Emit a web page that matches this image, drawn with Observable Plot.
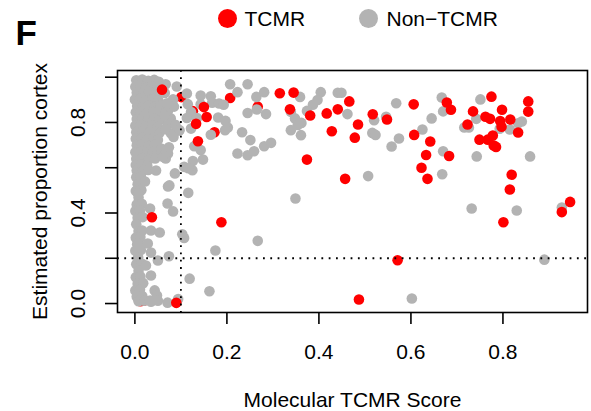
<!DOCTYPE html>
<html>
<head>
<meta charset="utf-8">
<script src="https://cdn.jsdelivr.net/npm/d3@7"></script>
<script src="https://cdn.jsdelivr.net/npm/@observablehq/plot@0.6"></script>
<style>
  body { margin: 0; background: #fff; font-family: "Liberation Sans", Arial, Helvetica, sans-serif; color: #000; }
  #wrap { position: relative; width: 591px; height: 411px; overflow: hidden; }
  #head { position: relative; height: 40px; }
  .panel { position: absolute; left: 15.5px; top: 15.4px; font-size: 35px; font-weight: bold; line-height: 1; }
  .sw { position: absolute; top: 8.5px; width: 19px; height: 19px; border-radius: 50%; }
  .lab { position: absolute; top: 7.7px; font-size: 21px; line-height: 1; white-space: nowrap; }
</style>
</head>
<body>
<div id="wrap">
  <div id="head">
    <div class="panel">F</div>
    <div class="sw" id="sw1" style="left:217.5px"></div>
    <div class="lab" id="lab1" style="left:244.5px"></div>
    <div class="sw" id="sw2" style="left:358.5px"></div>
    <div class="lab" id="lab2" style="left:386.5px"></div>
  </div>
  <div id="chart"></div>
</div>
<script>
// Groups and colours
const groups = ["TCMR", "Non\u2212TCMR"];
const groupColors = ["#ff0000", "#b3b3b3"];

// Axis ticks
const xTicks = [0, 0.2, 0.4, 0.6, 0.8];
const yTicks = [0, 0.2, 0.4, 0.6, 0.8, 1.0];
const yTickLabels = [0, 0.4, 0.8];

// Reference cut-offs
const scoreCutoff = [0.1];
const cortexCutoff = [0.2];

// Biopsies: [molecular TCMR score, estimated proportion cortex]
// TCMR biopsies plotted before the non-TCMR ones (partly covered)
const tcmrEarly = [
  [0.101, 0.912], [0.207, 0.908], [0.173, 0.757], [0.267, 0.870], [0.126, 0.850],
  [0.012, 0.587], [0.017, 0.890], [0.050, 0.868], [0.034, 0.739], [0.009, 0.065],
  [0.020, 0.013], [0.012, 0.010], [0.025, 0.785]
];

// Non-TCMR biopsies
const nonTcmr = [
  // low-score cluster
  [0.003, 0.986], [0.016, 0.990], [0.029, 0.984], [0.042, 0.988], [0.052, 0.980],
  [0.001, 0.958], [0.012, 0.962], [0.024, 0.955], [0.037, 0.960], [0.049, 0.953],
  [0.004, 0.931], [0.018, 0.928], [0.031, 0.934], [0.045, 0.926], [0.055, 0.932],
  [0.000, 0.902], [0.011, 0.905], [0.025, 0.898], [0.038, 0.903], [0.051, 0.897],
  [0.005, 0.873], [0.017, 0.870], [0.030, 0.876], [0.043, 0.868], [0.056, 0.874],
  [0.002, 0.845], [0.013, 0.848], [0.026, 0.841], [0.040, 0.846], [0.052, 0.840],
  [0.004, 0.815], [0.016, 0.818], [0.029, 0.812], [0.042, 0.816], [0.054, 0.811],
  [0.001, 0.786], [0.012, 0.789], [0.025, 0.783], [0.038, 0.787], [0.050, 0.782],
  [0.003, 0.757], [0.017, 0.760], [0.030, 0.754], [0.044, 0.758], [0.053, 0.752],
  [0.067, 0.969], [0.091, 0.959], [0.083, 0.902], [0.072, 0.853], [0.078, 0.818],
  [0.072, 0.791], [0.096, 0.765], [0.078, 0.752], [0.065, 0.930], [0.070, 0.885],
  [0.064, 0.830], [0.085, 0.870], [0.066, 0.770], [0.088, 0.790],
  [0.002, 0.728], [0.015, 0.731], [0.028, 0.725], [0.041, 0.729], [0.050, 0.722],
  [0.004, 0.699], [0.016, 0.702], [0.030, 0.696], [0.043, 0.700],
  [0.001, 0.668], [0.013, 0.671], [0.026, 0.665], [0.039, 0.669], [0.049, 0.662],
  [0.003, 0.640], [0.017, 0.643], [0.031, 0.637], [0.044, 0.641],
  [0.057, 0.685], [0.072, 0.663], [0.067, 0.641],
  [0.002, 0.612], [0.014, 0.615], [0.027, 0.609], [0.004, 0.588], [0.016, 0.585],
  [0.029, 0.590], [0.046, 0.588],
  [0.003, 0.558], [0.013, 0.561], [0.006, 0.527], [0.002, 0.497], [0.014, 0.500],
  [0.008, 0.468], [0.004, 0.438], [0.015, 0.441], [0.001, 0.409], [0.011, 0.412],
  [0.006, 0.379], [0.017, 0.382], [0.003, 0.350], [0.008, 0.320], [0.016, 0.323],
  [0.002, 0.291], [0.012, 0.294], [0.005, 0.262], [0.001, 0.233], [0.013, 0.236],
  [0.007, 0.204], [0.003, 0.174], [0.015, 0.177], [0.008, 0.145], [0.002, 0.116],
  [0.012, 0.119], [0.006, 0.087], [0.018, 0.090], [0.001, 0.058], [0.011, 0.061],
  [0.004, 0.030], [0.016, 0.033], [0.008, 0.010], [0.020, 0.012],
  [0.022, 0.539], [0.013, 0.504], [0.072, 0.517], [0.007, 0.486], [0.033, 0.420],
  [0.035, 0.323], [0.054, 0.314], [0.007, 0.265], [0.028, 0.265], [0.035, 0.225],
  [0.050, 0.190], [0.024, 0.168], [0.035, 0.124], [0.043, 0.058], [0.048, 0.035],
  [0.033, 0.013], [0.035, 0.008], [0.050, 0.012],
  // intermediate scores
  [0.207, 0.969], [0.245, 0.969], [0.113, 0.928], [0.143, 0.919], [0.165, 0.916],
  [0.223, 0.934], [0.264, 0.913], [0.281, 0.934], [0.143, 0.880], [0.168, 0.887],
  [0.183, 0.884], [0.193, 0.878], [0.245, 0.842], [0.265, 0.857], [0.285, 0.837],
  [0.348, 0.818], [0.181, 0.822], [0.197, 0.807], [0.202, 0.778], [0.196, 0.766],
  [0.233, 0.757], [0.251, 0.722], [0.281, 0.695], [0.296, 0.710], [0.223, 0.663],
  [0.245, 0.655], [0.259, 0.673], [0.122, 0.773], [0.097, 0.766], [0.084, 0.736],
  [0.129, 0.695], [0.143, 0.678], [0.148, 0.636], [0.126, 0.630], [0.125, 0.589],
  [0.107, 0.604], [0.116, 0.598], [0.087, 0.575], [0.075, 0.522], [0.116, 0.489],
  [0.061, 0.648], [0.068, 0.669], [0.074, 0.690], [0.071, 0.442], [0.083, 0.407],
  [0.103, 0.306], [0.107, 0.290], [0.074, 0.209], [0.119, 0.110], [0.162, 0.054],
  [0.175, 0.234], [0.267, 0.277], [0.071, 0.004], [0.094, 0.020],
  [0.115, 0.881], [0.122, 0.846], [0.113, 0.820], [0.135, 0.820], [0.165, 0.746],
  // higher scores
  [0.359, 0.913], [0.404, 0.934], [0.441, 0.931], [0.449, 0.931], [0.397, 0.899],
  [0.387, 0.878], [0.374, 0.851], [0.339, 0.847], [0.362, 0.798], [0.354, 0.789],
  [0.339, 0.766], [0.361, 0.744], [0.462, 0.837], [0.520, 0.810], [0.546, 0.825],
  [0.568, 0.885], [0.516, 0.754], [0.523, 0.745], [0.574, 0.729], [0.558, 0.694],
  [0.625, 0.769], [0.645, 0.818], [0.667, 0.910], [0.670, 0.849], [0.670, 0.673],
  [0.668, 0.571], [0.507, 0.563], [0.716, 0.778], [0.726, 0.778], [0.742, 0.816],
  [0.751, 0.902], [0.793, 0.772], [0.815, 0.769], [0.833, 0.796], [0.841, 0.804],
  [0.743, 0.650], [0.859, 0.650], [0.349, 0.464], [0.732, 0.420], [0.830, 0.411],
  [0.928, 0.424], [0.890, 0.194], [0.602, 0.022]
];

// TCMR biopsies plotted after the non-TCMR ones
const tcmr = [
  [0.345, 0.932], [0.337, 0.858], [0.381, 0.831], [0.417, 0.840], [0.441, 0.858],
  [0.466, 0.893], [0.428, 0.761], [0.485, 0.791], [0.478, 0.733], [0.517, 0.836],
  [0.548, 0.813], [0.606, 0.880], [0.607, 0.745], [0.642, 0.716], [0.633, 0.656],
  [0.623, 0.600], [0.636, 0.551], [0.683, 0.652], [0.678, 0.888], [0.687, 0.856],
  [0.723, 0.791], [0.735, 0.849], [0.775, 0.914], [0.762, 0.825], [0.772, 0.816],
  [0.798, 0.856], [0.794, 0.806], [0.797, 0.781], [0.816, 0.813], [0.833, 0.756],
  [0.749, 0.724], [0.767, 0.724], [0.778, 0.742], [0.780, 0.698], [0.785, 0.692],
  [0.855, 0.893], [0.855, 0.848], [0.374, 0.636], [0.457, 0.551], [0.819, 0.569],
  [0.815, 0.504], [0.946, 0.449], [0.928, 0.404], [0.801, 0.359], [0.571, 0.191],
  [0.487, 0.018], [0.059, 0.945], [0.315, 0.929], [0.150, 0.868], [0.156, 0.824],
  [0.133, 0.794], [0.137, 0.717], [0.037, 0.381], [0.188, 0.359], [0.090, 0.003]
];

const xTitle = "Molecular TCMR Score";
const yTitle = "Estimated proportion cortex";

// Legend
document.getElementById("sw1").style.background = groupColors[0];
document.getElementById("sw2").style.background = groupColors[1];
document.getElementById("lab1").textContent = groups[0];
document.getElementById("lab2").textContent = groups[1];

const font = "'Liberation Sans', Arial, Helvetica, sans-serif";
const r = 5.3;

const chart = Plot.plot({
  width: 591,
  height: 371,
  marginTop: 30,
  marginBottom: 99,
  marginLeft: 117,
  marginRight: 4,
  style: { fontFamily: font, fontSize: "21px", color: "#000", background: "#fff", overflow: "visible" },
  x: { domain: [-0.0378, 0.9838] },
  y: { domain: [-0.0396, 1.0296] },
  marks: [
    Plot.dot(tcmrEarly, { x: d => d[0], y: d => d[1], r, fill: groupColors[0] }),
    Plot.dot(nonTcmr, { x: d => d[0], y: d => d[1], r, fill: groupColors[1] }),
    Plot.dot(tcmr, { x: d => d[0], y: d => d[1], r, fill: groupColors[0] }),
    Plot.ruleY(cortexCutoff, { stroke: "#000", strokeWidth: 1.8, strokeDasharray: "1.8,5.5" }),
    Plot.ruleX(scoreCutoff, { stroke: "#000", strokeWidth: 1.8, strokeDasharray: "1.8,5.5" }),
    Plot.frame({ stroke: "#000", strokeWidth: 1.6 }),
    Plot.axisX({ ticks: xTicks, tickSize: 12, tickPadding: 20, strokeWidth: 1.6,
      tickFormat: d3.format(".1f"), fontSize: 21, label: null }),
    Plot.axisY({ ticks: yTicks, tickSize: 12, strokeWidth: 1.6, tickFormat: () => "", label: null }),
    Plot.text(yTickLabels, { y: d => d, text: d => d.toFixed(1), frameAnchor: "left",
      textAnchor: "middle", lineAnchor: "middle", dx: -39, rotate: -90, fontSize: 21 }),
    Plot.text([xTitle], { text: d => d, frameAnchor: "bottom", textAnchor: "middle",
      lineAnchor: "middle", dy: 88, fontSize: 21 }),
    Plot.text([yTitle], { text: d => d, frameAnchor: "left", textAnchor: "middle",
      lineAnchor: "middle", dx: -77, rotate: -90, fontSize: 21 })
  ]
});
document.getElementById("chart").appendChild(chart);
</script>
</body>
</html>
